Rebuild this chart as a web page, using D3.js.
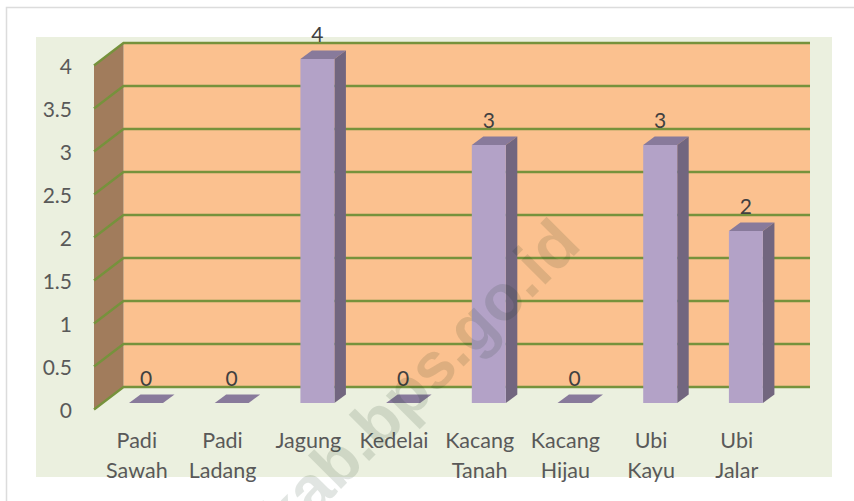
<!DOCTYPE html>
<html><head><meta charset="utf-8">
<style>html,body{margin:0;padding:0;background:#fff;overflow:hidden}svg{display:block}text{font-family:Lato,Carlito,sans-serif}</style>
<script src="https://cdn.jsdelivr.net/npm/d3@7"></script></head>
<body><script>
const categories=[["Padi","Sawah"],["Padi","Ladang"],["Jagung"],["Kedelai"],["Kacang","Tanah"],["Kacang","Hijau"],["Ubi","Kayu"],["Ubi","Jalar"]];
const values=[0,0,4,0,3,0,3,2];
const yTicks=[0,0.5,1,1.5,2,2.5,3,3.5,4];
const W=854,H=501;
const svg=d3.select("body").append("svg").attr("width",W).attr("height",H);
svg.append("path").attr("d","M6.5,501V7.5H854").attr("fill","none").attr("stroke","#dcdcdc").attr("stroke-width",1.5);
svg.append("rect").attr("x",36).attr("y",37).attr("width",796).attr("height",440).attr("fill","#ebf0df");
const depthX=29.5,depthY=-22.5;
const x=d3.scaleBand().domain(d3.range(categories.length)).range([94,779.6]);
const y=d3.scaleLinear().domain([0,4]).range([409.5,65.5]);
const wallL=94+depthX,wallR=810;
svg.append("rect").attr("x",wallL).attr("y",y(4)+depthY).attr("width",wallR-wallL).attr("height",y(0)-y(4)).attr("fill","#fbc18f");
svg.append("path").attr("d",`M94,${y(0)}L${wallL},${y(0)+depthY}L${wallL},${y(4)+depthY}L94,${y(4)}Z`).attr("fill","#a17c5c");
const grid=svg.append("g").attr("fill","none").attr("stroke","#76923c").attr("stroke-width",2.4);
grid.selectAll("path").data(yTicks).join("path").attr("d",d=>`M94,${y(d)}L${wallL},${y(d)+depthY}L${wallR},${y(d)+depthY}`);
svg.append("g").selectAll("text").data(yTicks).join("text")
 .attr("x",72).attr("y",d=>y(d)+8.5).attr("text-anchor","end").attr("font-size",21).attr("fill","#595959").text(d=>d);
const bw=34,bdx=9.16,bdy=-6.5,sdx=11.5,sdy=-8.5;
const bars=svg.append("g").selectAll("g").data(values).join("g");
const bx=i=>x(i)+x.bandwidth()/2-bw/2+bdx;
bars.append("path").attr("fill","#887a9b").attr("d",(d,i)=>{const t=y(d)+bdy,l=bx(i);return `M${l},${t}L${l+sdx},${t+sdy}L${l+bw+sdx},${t+sdy}L${l+bw},${t}Z`});
bars.append("path").attr("fill","#72667f").attr("d",(d,i)=>{const t=y(d)+bdy,b=y(0)+bdy,l=bx(i)+bw;return `M${l},${t}L${l+sdx},${t+sdy}L${l+sdx},${b+sdy}L${l},${b}Z`});
bars.append("rect").attr("fill","#b3a2c7").attr("x",(d,i)=>bx(i)).attr("y",d=>y(d)+bdy).attr("width",bw).attr("height",d=>y(0)-y(d));
svg.append("g").selectAll("text").data(values).join("text")
 .attr("x",(d,i)=>bx(i)+bw/2).attr("y",d=>y(d)+bdy-17.5).attr("text-anchor","middle").attr("font-size",21).attr("fill","#404040").text(d=>d);
const cat=svg.append("g").selectAll("text").data(categories).join("text")
 .attr("text-anchor","middle").attr("font-size",21.5).attr("fill","#595959");
cat.selectAll("tspan").data((d,i)=>d.map(s=>({s,i}))).join("tspan")
 .attr("x",d=>x(d.i)+x.bandwidth()/2).attr("y",(d,j)=>448+j*30).text(d=>d.s);
svg.append("text").attr("transform","translate(435,395) rotate(-45)").attr("text-anchor","middle")
 .attr("font-size",65).attr("font-weight",700).style("font-family","'Liberation Sans',sans-serif").attr("fill","#0a2a10").attr("fill-opacity",0.12).text("kab.bps.go.id");
</script></body></html>
